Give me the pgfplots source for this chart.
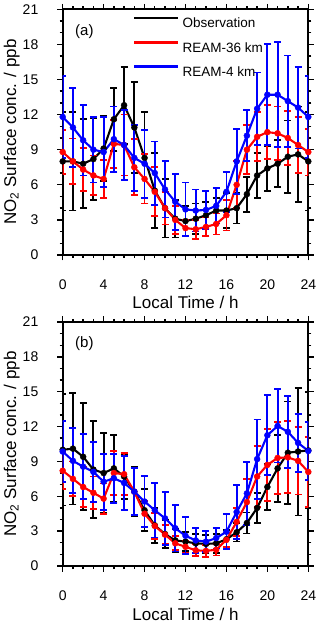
\documentclass[border=0pt]{standalone}
\usepackage{fontspec}
\setmainfont{Liberation Sans}
\usepackage{pgfplots}
\usepackage{pgfplotstable}
\pgfplotsset{compat=1.18}

% (a) hour, mean, std
\pgfplotstableread{
h y e
0 8.0 4.2
1 8.0 4.2
2 7.8 3.8
3 8.2 3.5
4 9.1 2.8
5 11.6 2.7
6 12.8 3.3
7 10.9 3.9
8 8.3 3.9
9 5.5 3.2
10 4.0 2.5
11 3.1 1.6
12 2.9 1.3
13 3.1 1.3
14 3.4 1.1
15 3.8 1.1
16 3.8 1.5
17 4.0 1.3
18 5.2 1.5
19 6.8 1.9
20 7.4 1.9
21 7.8 2.0
22 8.4 3.1
23 8.6 4.1
24 8.0 4.2
}\obsA
\pgfplotstableread{
h y e
0 8.8 1.9
1 8.0 1.95
2 7.3 1.85
3 6.8 1.7
4 6.5 1.65
5 9.5 2.05
6 9.4 2.6
7 7.5 2.4
8 6.5 2.1
9 5.4 2.1
10 4.0 1.4
11 3.0 1.2
12 2.3 0.7
13 2.2 0.8
14 2.4 0.8
15 2.65 0.9
16 3.4 1.3
17 6.0 2.0
18 9.0 2.1
19 10.1 2.1
20 10.5 2.3
21 10.4 2.3
22 10.0 2.3
23 9.4 2.4
24 8.8 2.0
}\coarseA
\pgfplotstableread{
h y e
0 11.8 3.5
1 10.9 3.4
2 9.8 3.0
3 9.0 2.8
4 8.8 3.0
5 9.9 2.8
6 9.4 3.0
7 8.3 2.8
8 7.8 2.9
9 7.0 2.7
10 5.6 2.4
11 4.55 2.4
12 3.9 2.3
13 3.8 1.8
14 3.85 1.6
15 4.2 1.5
16 5.4 1.7
17 8.0 2.8
18 10.2 2.2
19 12.5 3.1
20 13.7 4.3
21 13.7 4.5
22 13.15 3.9
23 12.6 3.5
24 11.8 3.5
}\fineA

% (b)
\pgfplotstableread{
h y e
0 10.0 4.8
1 10.1 4.8
2 9.4 4.6
3 8.3 4.2
4 8.0 3.45
5 8.4 2.9
6 7.7 1.9
7 6.4 2.1
8 4.8 1.8
9 3.5 1.5
10 2.75 1.2
11 2.2 1.0
12 2.1 0.8
13 1.95 0.8
14 1.9 0.8
15 1.95 0.8
16 2.3 0.8
17 2.9 0.8
18 3.7 0.9
19 5.0 1.3
20 6.8 2.0
21 8.4 2.9
22 9.75 4.4
23 9.85 5.5
24 9.95 5.0
}\obsB
\pgfplotstableread{
h y e
0 8.2 1.6
1 7.5 1.5
2 6.8 1.7
3 6.3 1.4
4 5.8 1.3
5 8.0 1.9
6 7.9 1.8
7 6.4 2.0
8 4.5 1.1
9 3.45 1.1
10 2.7 0.8
11 1.95 0.6
12 1.65 0.5
13 1.35 0.5
14 1.3 0.5
15 1.4 0.5
16 2.25 0.6
17 3.8 1.2
18 5.5 2.0
19 7.7 2.6
20 8.7 3.1
21 9.3 3.1
22 9.35 3.1
23 9.05 2.9
24 8.1 3.0
}\coarseB
\pgfplotstableread{
h y e
0 9.85 2.6
1 9.05 2.8
2 8.55 2.8
3 8.1 2.6
4 7.25 2.4
5 7.55 2.1
6 7.15 2.3
7 6.4 2.0
8 5.55 2.2
9 4.8 2.35
10 4.1 2.3
11 3.25 2.0
12 2.6 1.6
13 2.2 1.05
14 2.1 0.9
15 2.4 0.9
16 2.95 1.5
17 4.65 2.3
18 6.25 2.7
19 9.2 3.4
20 11.25 3.45
21 12.05 3.15
22 11.55 3.1
23 10.6 2.5
24 9.9 2.5
}\fineB

\pgfplotsset{
  panel/.style={
    scale only axis, width=245.6pt,
    xmin=0, xmax=24, ymin=0, ymax=21,
    xtick={0,4,...,24}, ytick={0,3,...,21},
    minor x tick num=3, minor y tick num=2,
    tick align=outside, tick pos=both,
    xticklabel pos=lower, yticklabel pos=left,
    major tick length=5.5pt, minor tick length=3pt,
    tick style={line width=1.4pt, black},
    axis line style={line width=2pt},
    /pgf/number format/assume math mode=true,
    ticklabel style={font=\fontsize{14}{14}\selectfont},
    xticklabel style={anchor=base, inner sep=0pt, yshift=-29.3pt},
    yticklabel style={anchor=east, inner sep=0pt, xshift=-18.7pt},
    xlabel={Local Time / h},
    ylabel={NO\textsubscript{2} Surface conc. / ppb},
    label style={font=\fontsize{17}{17}\selectfont},
    xlabel style={at={(axis description cs:0.5,0)}, anchor=base, yshift=-54pt},
    ylabel style={at={(axis description cs:-0.1901,0.5)}, anchor=base},
  },
  ser/.style={#1, line width=2.1pt, mark=*, mark size=3pt,
    mark options={solid, line width=0.4pt, fill=#1},
    error bars/y dir=both, error bars/y explicit,
    error bars/error bar style={line width=1.8pt, #1},
    error bars/error mark options={rotate=90, mark size=3.5pt, line width=1.8pt, #1}},
}

\begin{document}
\begin{tikzpicture}
\path[use as bounding box] (0,0) rectangle (320pt,624pt);

\begin{axis}[panel, at={(62.7pt,369pt)}, anchor=south west, height=245.7pt,
    legend image code/.code={\draw[#1, line width=2.4pt] (0pt,4.8pt) -- (44pt,4.8pt);},
    legend style={draw=none, fill=none, inner sep=0pt,
      at={(axis description cs:0.2862,0.97)}, anchor=north west,
      font=\fontsize{13.5}{13.5}\selectfont, row sep=13.3pt, column sep=3pt,
      nodes={inner sep=0pt, text height=10pt, text depth=0pt}},
    legend cell align=left]
\addplot[forget plot, ser=black] table[x=h, y=y, y error=e] {\obsA};
\addplot[forget plot, ser=red] table[x=h, y=y, y error=e] {\coarseA};
\addplot[forget plot, ser=blue] table[x=h, y=y, y error=e] {\fineA};
\addlegendimage{black}\addlegendentry{Observation}
\addlegendimage{red}\addlegendentry{REAM-36 km}
\addlegendimage{blue}\addlegendentry{REAM-4 km}
\node[anchor=west, inner sep=0pt, font=\fontsize{15}{15}\selectfont] at (axis description cs:0.05,0.909) {(a)};
\end{axis}

\begin{axis}[panel, at={(62.7pt,58pt)}, anchor=south west, height=244pt]
\addplot[ser=black] table[x=h, y=y, y error=e] {\obsB};
\addplot[ser=red] table[x=h, y=y, y error=e] {\coarseB};
\addplot[ser=blue] table[x=h, y=y, y error=e] {\fineB};
\node[anchor=west, inner sep=0pt, font=\fontsize{15}{15}\selectfont] at (axis description cs:0.05,0.913) {(b)};
\end{axis}
\end{tikzpicture}
\end{document}
